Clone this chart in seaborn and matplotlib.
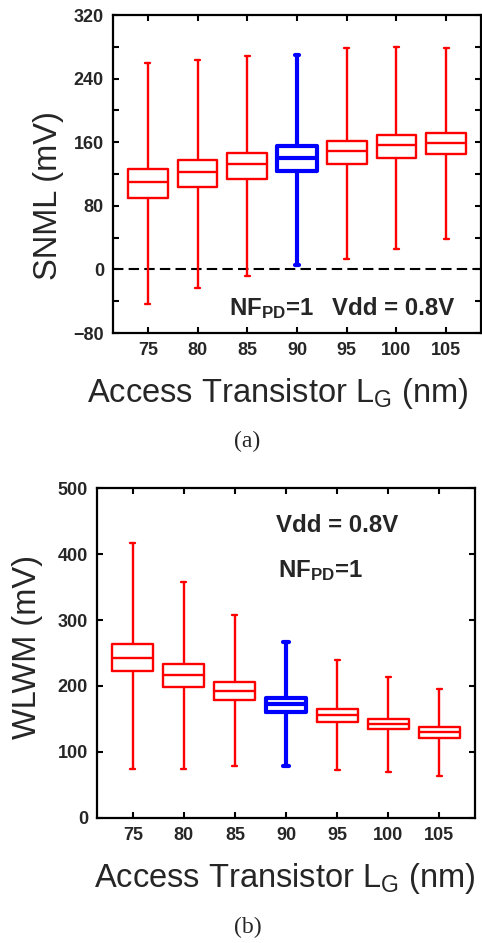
import numpy as np
import pandas as pd
import matplotlib
matplotlib.use("Agg")
import matplotlib.pyplot as plt
from matplotlib import font_manager as fm
from matplotlib.ticker import MultipleLocator
import seaborn as sns

# ---------------- data ----------------
lg_labels = ["75", "80", "85", "90", "95", "100", "105"]
highlight = "90"

snml_low = [-43, -24, -8, 6, 13, 26, 38]
snml_q1 = [90, 104, 114, 124, 132, 140, 145]
snml_med = [110, 122, 132, 140, 149, 156, 159]
snml_q3 = [126, 137, 147, 155, 162, 169, 172]
snml_high = [259, 263, 268, 270, 278, 280, 278]

wlwm_low = [74, 74, 79, 79, 72, 70, 63]
wlwm_q1 = [222, 199, 178, 160, 145, 134, 121]
wlwm_med = [242, 216, 192, 172, 156, 142, 130]
wlwm_q3 = [264, 233, 206, 182, 165, 150, 137]
wlwm_high = [417, 358, 307, 266, 240, 214, 196]


def long_frame(low, q1, med, q3, high):
    rows = []
    for i, lab in enumerate(lg_labels):
        for v in (low[i], q1[i], med[i], q3[i], high[i]):
            rows.append({"LG": lab, "val": v})
    return pd.DataFrame(rows)


df_snml = long_frame(snml_low, snml_q1, snml_med, snml_q3, snml_high)
df_wlwm = long_frame(wlwm_low, wlwm_q1, wlwm_med, wlwm_q3, wlwm_high)

# avoid the condensed "Narrow" variant being picked for bold text
fm.fontManager.ttflist = [f for f in fm.fontManager.ttflist if "Narrow" not in f.name]
try:
    fm.fontManager._findfont_cached.cache_clear()
except Exception:
    pass

# ---------------- style ----------------
sns.set_style("white")
plt.rcParams["font.family"] = ["Liberation Sans", "DejaVu Sans"]
plt.rcParams["mathtext.fontset"] = "custom"
plt.rcParams["mathtext.rm"] = "Liberation Sans"
plt.rcParams["mathtext.bf"] = "Liberation Sans:bold"
plt.rcParams["mathtext.it"] = "Liberation Sans"

W, H = 482, 943
fig = plt.figure(figsize=(W / 100, H / 100), dpi=100)


def px_axes(left, top, right, bottom):
    return fig.add_axes([left / W, 1 - bottom / H, (right - left) / W, (bottom - top) / H])


def draw_boxes(ax, df):
    red = df[df["LG"] != highlight]
    blue = df[df["LG"] == highlight]
    sns.boxplot(data=red, x="LG", y="val", order=lg_labels, ax=ax, fill=False,
                color="#ff0000", linewidth=1.7, width=0.8, whis=(0, 100),
                showfliers=False, capwidths=0.1)
    sns.boxplot(data=blue, x="LG", y="val", order=lg_labels, ax=ax, fill=False,
                color="#0000ff", linewidth=3.0, width=0.8, whis=(0, 100),
                showfliers=False, capwidths=0.1)


def style_axes(ax):
    for s in ax.spines.values():
        s.set_visible(True)
        s.set_linewidth(1.6)
        s.set_color("black")
    ax.tick_params(axis="both", which="both", direction="in", top=True, right=True,
                   bottom=True, left=True, length=4, width=1.5, color="black")
    ax.tick_params(axis="both", which="major", labelsize=13, pad=6.5)
    for lab in ax.get_xticklabels() + ax.get_yticklabels():
        lab.set_fontweight("bold")
    ax.set_xlabel("")
    ax.set_ylabel("")
    ax.set_xlim(-0.7, 6.7)


# ---------------- panel (a) ----------------
ax1 = px_axes(113, 15, 481, 333)
draw_boxes(ax1, df_snml)
ax1.axhline(0, color="black", lw=1.5, ls=(0, (5, 2.5)), zorder=0)
ax1.set_ylim(-80, 320)
ax1.yaxis.set_major_locator(MultipleLocator(80))
ax1.yaxis.set_minor_locator(MultipleLocator(40))
style_axes(ax1)

# ---------------- panel (b) ----------------
ax2 = px_axes(97, 488.3, 475, 817.7)
draw_boxes(ax2, df_wlwm)
ax2.set_ylim(0, 500)
ax2.yaxis.set_major_locator(MultipleLocator(100))
style_axes(ax2)

# ---------------- texts ----------------
def ftext(x, y, s, **kw):
    fig.text(x / W, 1 - y / H, s, **kw)

xlab = r"Access Transistor L$_\mathregular{G}$ (nm)"
ftext(278, 401.7, xlab, fontsize=23.5, ha="center", va="baseline")
ftext(285, 887, xlab, fontsize=23.5, ha="center", va="baseline")
ftext(49, 196, "SNML (mV)", fontsize=23.5, rotation=90, ha="center", va="center")
ftext(28, 647, "WLWM (mV)", fontsize=23.5, rotation=90, ha="center", va="center")

nf = r"NF$_{\mathbf{PD}}$=1"
ftext(229, 315, nf, fontsize=17.3, fontweight="bold", ha="left", va="baseline")
ftext(331.7, 315, "Vdd = 0.8V", fontsize=17.3, fontweight="bold", ha="left", va="baseline")
ftext(276, 531.7, "Vdd = 0.8V", fontsize=17.3, fontweight="bold", ha="left", va="baseline")
ftext(277.7, 576.7, nf, fontsize=17.3, fontweight="bold", ha="left", va="baseline")

ftext(247.5, 441, "(a)", fontsize=17, family=["Liberation Serif", "DejaVu Serif"],
      ha="center", va="center")
ftext(248, 927, "(b)", fontsize=17, family=["Liberation Serif", "DejaVu Serif"],
      ha="center", va="center")

fig.savefig("out.png", dpi=100)
